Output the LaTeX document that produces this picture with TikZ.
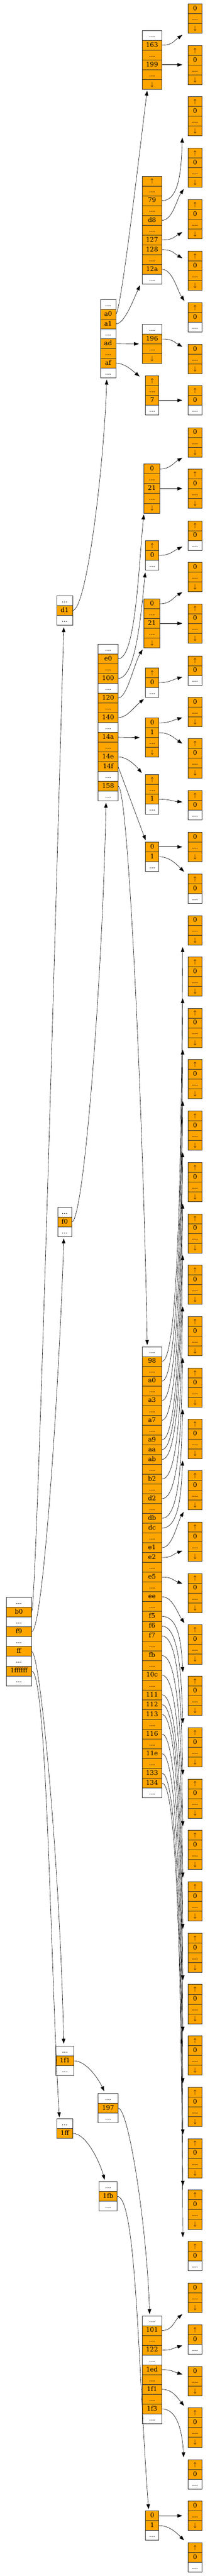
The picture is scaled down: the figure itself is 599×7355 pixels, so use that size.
\documentclass[tikz,border=0pt]{standalone}
\usepackage{fontspec}
\setmainfont{DejaVu Serif}
\usetikzlibrary{arrows.meta}

\definecolor{slotfill}{HTML}{FFA500}

\newcommand{\elide}{...}
\newcommand{\ptrup}{$\uparrow$}
\newcommand{\ptrdn}{$\downarrow$}

% one record: name, centre x, top y, width, cells (style/text)
\newcommand{\trienode}[5]{%
  \foreach \kind/\txt [count=\i] in {#5}
    \node[\kind, minimum width=#4pt] (#1-\i) at (#2,{#3+28*\i-14}) {\txt};
}
\newcommand{\leafdn}[2]{\trienode{#1}{557.5}{#2}{39}{taken/0,taken/\elide,taken/\ptrdn}}
\newcommand{\leafup}[2]{\trienode{#1}{557.5}{#2}{39}{taken/\ptrup,taken/0,spare/\elide}}
\newcommand{\leafmid}[2]{\trienode{#1}{557.5}{#2}{39}{taken/\ptrup,taken/0,taken/\elide,taken/\ptrdn}}

\tikzset{
  slotbox/.style={draw=black!80, line width=1.1pt, minimum height=28pt, inner sep=0pt, outer sep=0pt,
    text height=13.5pt, text depth=3.5pt, font=\fontsize{18}{20}\selectfont},
  taken/.style={slotbox, fill=slotfill},
  spare/.style={slotbox, fill=white},
  ptr/.style={-{Triangle[length=14pt,width=10pt]}, line width=0.9pt}
}

\begin{document}
\begin{tikzpicture}[x=1pt,y=-1pt]
\useasboundingbox (0,0) rectangle (599,7355);

% level 1
\trienode{root}{54}{4561}{72.6}{spare/\elide,taken/b0,spare/\elide,taken/f9,spare/\elide,taken/ff,spare/\elide,taken/1ffffff,spare/\elide}

% level 2
\trienode{d2a}{185}{1701}{45}{spare/\elide,taken/d1,spare/\elide}
\trienode{d2b}{185}{3447}{40}{spare/\elide,taken/f0,spare/\elide}
\trienode{d2c}{185.5}{5842}{52}{spare/\elide,taken/1f1,spare/\elide}
\trienode{d2d}{185}{6049}{45}{spare/\elide,taken/1ff}

% level 3
\trienode{d3a}{309}{855}{44}{spare/\elide,taken/a0,taken/a1,spare/\elide,taken/ad,taken/\elide,taken/af,spare/\elide}
\trienode{d3b}{309}{1839}{57.5}{spare/\elide,taken/e0,taken/\elide,taken/100,spare/\elide,taken/120,taken/\elide,taken/140,spare/\elide,taken/14a,taken/\elide,taken/14e,taken/14f,spare/\elide,taken/158,spare/\elide}
\trienode{d3c}{309}{5977}{57.5}{spare/\elide,taken/197,spare/\elide}
\trienode{d3d}{309}{6229}{52}{spare/\elide,taken/1fb,spare/\elide}

% level 4
\trienode{d4a}{434.5}{87}{57}{spare/\elide,taken/163,taken/\elide,taken/199,taken/\elide,taken/\ptrdn}
\trienode{d4b}{434.5}{503}{57}{taken/\ptrup,taken/\elide,taken/79,taken/\elide,taken/d8,taken/\elide,taken/127,taken/128,taken/\elide,taken/12a,spare/\elide}
\trienode{d4c}{434.5}{926}{57}{spare/\elide,taken/196,taken/\elide,taken/\ptrdn}
\trienode{d4d}{435}{1073}{38.4}{taken/\ptrup,taken/\elide,taken/7,spare/\elide}
\trienode{d4e}{434.3}{1325}{45.6}{taken/0,taken/\elide,taken/21,taken/\elide,taken/\ptrdn}
\trienode{d4f}{435}{1544}{38.4}{taken/\ptrup,taken/0,spare/\elide}
\trienode{d4g}{434.3}{1710}{45.6}{taken/0,taken/\elide,taken/21,taken/\elide,taken/\ptrdn}
\trienode{d4h}{435}{1907}{38.4}{taken/\ptrup,taken/0,spare/\elide}
\trienode{d4i}{435}{2050}{38.4}{taken/0,taken/1,taken/\elide,taken/\ptrdn}
\trienode{d4j}{435}{2212}{38.4}{taken/\ptrup,taken/\elide,taken/1,spare/\elide}
\trienode{d4k}{435}{2404}{38.4}{taken/0,taken/1,spare/\elide}
\trienode{d4l}{434.5}{3845}{57}{spare/\elide,taken/98,taken/\elide,taken/a0,taken/\elide,taken/a3,taken/\elide,taken/a7,taken/\elide,taken/a9,taken/aa,taken/ab,taken/\elide,taken/b2,taken/\elide,taken/d2,taken/\elide,taken/db,taken/dc,taken/\elide,taken/e1,taken/e2,taken/\elide,taken/e5,taken/\elide,taken/ee,taken/\elide,taken/f5,taken/f6,taken/f7,taken/\elide,taken/fb,taken/\elide,taken/10c,taken/\elide,taken/111,taken/112,taken/113,taken/\elide,taken/116,taken/\elide,taken/11e,taken/\elide,taken/133,taken/134,spare/\elide}
\trienode{d4m}{434.5}{6612}{57}{spare/\elide,taken/101,taken/\elide,taken/122,spare/\elide,taken/1ed,taken/\elide,taken/1f1,taken/\elide,taken/1f3,spare/\elide}
\trienode{d4n}{435}{7169}{38.4}{taken/0,taken/1,spare/\elide}

% leaves
\leafdn{leaf1}{11}
\leafmid{leaf2}{130}
\leafmid{leaf3}{276}
\leafmid{leaf4}{423}
\leafmid{leaf5}{570}
\leafmid{leaf6}{717}
\leafup{leaf7}{864}
\leafdn{leaf8}{983}
\leafup{leaf9}{1101}
\leafdn{leaf10}{1221}
\leafmid{leaf11}{1339}
\leafup{leaf12}{1487}
\leafdn{leaf13}{1605.5}
\leafmid{leaf14}{1724}
\leafup{leaf15}{1872.5}
\leafdn{leaf16}{1991}
\leafmid{leaf17}{2109}
\leafup{leaf18}{2257}
\leafdn{leaf19}{2376}
\leafup{leaf20}{2495}
\leafdn{leaf21}{2614}
\foreach \k in {22,...,46}
  \leafmid{leaf\k}{2732+146.7*(\k-22)};
\leafup{leaf47}{6399.5}
\leafdn{leaf48}{6519}
\leafup{leaf49}{6638}
\leafdn{leaf50}{6757}
\leafmid{leaf51}{6875}
\leafup{leaf52}{7022.6}
\leafdn{leaf53}{7141}
\leafup{leaf54}{7260}

% level 1 -> level 2
\draw[ptr] (root-2.east) .. controls +(15,0) and +(-12,400) .. ([shift={(19.8,90)}]d2a-1.north west);
\draw[ptr] (root-4.east) .. controls +(35,0) and +(-10,350) .. ([shift={(17.2,89)}]d2b-1.north west);
\draw[ptr] (root-6.east) .. controls +(25,0) and +(-10,-500) .. ([shift={(22.5,-7)}]d2c-1.north west);
\draw[ptr] (root-8.east) .. controls +(45,0) and +(-25,-400) .. ([shift={(7.2,-4)}]d2d-1.north west);

% level 2 -> level 3
\draw[ptr] (d2a-2.east) .. controls +(40,0) and +(-8,250) .. ([shift={(18,229)}]d3a-1.north west);
\draw[ptr] (d2b-2.east) .. controls +(35,0) and +(-10,500) .. ([shift={(22.7,453)}]d3b-1.north west);
\draw[ptr] (d2c-2.east) .. controls +(35,0) and +(-17,-36) .. ([shift={(17.7,-6)}]d3c-1.north west);
\draw[ptr] (d2d-2.east) .. controls +(40,0) and +(-13,-48) .. ([shift={(16,-5.4)}]d3d-1.north west);

% level 3 -> level 4
\draw[ptr] (d3a-2.east) .. controls +(15,0) and +(-13,99) .. ([shift={(14.6,172)}]d4a-1.north west);
\draw[ptr] (d3a-3.east) .. controls +(25,0) and +(-19,41) .. ([shift={(-6,312)}]d4b-1.north west);
\draw[ptr] (d3a-5.east) -- ([shift={(-9,56)}]d4c-1.north west);
\draw[ptr] (d3a-7.east) .. controls +(25,0) and +(-23,-19) .. ([shift={(-16.8,2)}]d4d-1.north west);
\draw[ptr] (d3b-2.east) .. controls +(50,0) and +(-15,150) .. ([shift={(-0.5,144)}]d4e-1.north west);
\draw[ptr] (d3b-4.east) .. controls +(50,0) and +(-12,120) .. ([shift={(-0.7,90.5)}]d4f-1.north west);
\draw[ptr] (d3b-6.east) .. controls +(25,0) and +(-25,43) .. ([shift={(-4.2,144.6)}]d4g-1.north west);
\draw[ptr] (d3b-8.east) .. controls +(25,0) and +(-27,22) .. ([shift={(-4.7,89)}]d4h-1.north west);
\draw[ptr] (d3b-10.east) -- ([shift={(-16.7,56)}]d4i-1.north west);
\draw[ptr] (d3b-12.east) .. controls +(25,0) and +(-19,-23) .. ([shift={(-10.7,-5)}]d4j-1.north west);
\draw[ptr] (d3b-13.east) -- ([shift={(0.3,-5)}]d4k-1.north west);
\draw[ptr] (d3b-15.east) .. controls +(30,0) and +(-10,-600) .. ([shift={(14.7,-5)}]d4l-1.north west);
\draw[ptr] (d3c-2.east) .. controls +(30,0) and +(-8,-250) .. ([shift={(21.6,-5)}]d4m-1.north west);
\draw[ptr] (d3d-2.east) .. controls +(55,0) and +(-30,-400) .. ([shift={(8.8,-5)}]d4n-1.north west);

% level 4 -> leaves
\draw[ptr] (d4a-2.east) .. controls +(30,0) and +(-25,17) .. ([shift={(-17,89)}]leaf1-1.north west);
\draw[ptr] (d4a-4.east) -- ([shift={(-17,55)}]leaf2-1.north west);
\draw[ptr] (d4b-3.east) .. controls +(50,0) and +(-3,90) .. ([shift={(-17,117)}]leaf3-1.north west);
\draw[ptr] (d4b-5.east) .. controls +(30,0) and +(-20,29) .. ([shift={(-13,117)}]leaf4-1.north west);
\draw[ptr] (d4b-7.east) .. controls +(30,0) and +(-26,15) .. ([shift={(-17,93)}]leaf5-1.north west);
\draw[ptr] (d4b-8.east) .. controls +(30,0) and +(-26,-15) .. ([shift={(-17,20)}]leaf6-1.north west);
\draw[ptr] (d4b-10.east) .. controls +(30,0) and +(-20,-29) .. ([shift={(-11,-5)}]leaf7-1.north west);
\draw[ptr] (d4c-2.east) .. controls +(30,0) and +(-26,-15) .. ([shift={(-17,7)}]leaf8-1.north west);
\draw[ptr] (d4d-3.east) -- ([shift={(-17,42)}]leaf9-1.north west);
\draw[ptr] (d4e-1.east) .. controls +(30,0) and +(-26,15) .. ([shift={(-17,86)}]leaf10-1.north west);
\draw[ptr] (d4e-3.east) -- ([shift={(-17,56)}]leaf11-1.north west);
\draw[ptr] (d4f-2.east) .. controls +(30,0) and +(-27,13) .. ([shift={(-17,74)}]leaf12-1.north west);
\draw[ptr] (d4g-1.east) .. controls +(30,0) and +(-26,15) .. ([shift={(-17,85.5)}]leaf13-1.north west);
\draw[ptr] (d4g-3.east) -- ([shift={(-17,56)}]leaf14-1.north west);
\draw[ptr] (d4h-2.east) .. controls +(30,0) and +(-29,8) .. ([shift={(-17,60.5)}]leaf15-1.north west);
\draw[ptr] (d4i-1.east) .. controls +(30,0) and +(-29,8) .. ([shift={(-17,58)}]leaf16-1.north west);
\draw[ptr] (d4i-2.east) .. controls +(30,0) and +(-25,-17) .. ([shift={(-17,14)}]leaf17-1.north west);
\draw[ptr] (d4j-3.east) .. controls +(30,0) and +(-30,-3) .. ([shift={(-17,33)}]leaf18-1.north west);
\draw[ptr] (d4k-1.east) -- ([shift={(-17,42)}]leaf19-1.north west);
\draw[ptr] (d4k-2.east) .. controls +(30,0) and +(-21,-21) .. ([shift={(-12,-6)}]leaf20-1.north west);

% the long node: upward bundle, side links, downward bundle
\foreach \c/\k/\d/\h in {2/21/532/90,4/22/492/118,6/23/451/118,8/24/410/118,10/25/369/118,11/26/316/118,12/27/263/118,14/28/222/118,16/29/181/118,18/30/140/118,19/31/87/118}
  \draw[ptr] (d4l-\c.east) .. controls +(50,0) and +(-4,\d) .. ([shift={(-16,\h)}]leaf\k-1.north west);
\draw[ptr] (d4l-21.east) .. controls +(30,0) and +(-18,30) .. ([shift={(-13,118)}]leaf32-1.north west);
\draw[ptr] (d4l-22.east) .. controls +(30,0) and +(-28,10) .. ([shift={(-17,82)}]leaf33-1.north west);
\draw[ptr] (d4l-24.east) .. controls +(30,0) and +(-28,-10) .. ([shift={(-17,29)}]leaf34-1.north west);
\draw[ptr] (d4l-26.east) .. controls +(30,0) and +(-20,-29) .. ([shift={(-11,-5)}]leaf35-1.north west);
\foreach \c/\k/\d in {28/36/72,29/37/125,30/38/178,32/39/219,34/40/260,36/41/301,37/42/354,38/43/408,40/44/448,42/45/489,44/46/530,45/47/583}
  \draw[ptr] (d4l-\c.east) .. controls +(50,0) and +(-4,-\d) .. ([shift={(-15.5,-12)}]leaf\k-1.north west);

\draw[ptr] (d4m-2.east) .. controls +(30,0) and +(-23,19) .. ([shift={(-17,88.5)}]leaf48-1.north west);
\draw[ptr] (d4m-4.east) .. controls +(30,0) and +(-29,8) .. ([shift={(-17,59)}]leaf49-1.north west);
\draw[ptr] (d4m-6.east) .. controls +(30,0) and +(-29,-8) .. ([shift={(-17,22)}]leaf50-1.north west);
\draw[ptr] (d4m-8.east) .. controls +(30,0) and +(-19,-23) .. ([shift={(-12,-6)}]leaf51-1.north west);
\draw[ptr] (d4m-10.east) .. controls +(45,0) and +(-4,-70) .. ([shift={(-13,-6.6)}]leaf52-1.north west);
\draw[ptr] (d4n-1.east) -- ([shift={(-17,42)}]leaf53-1.north west);
\draw[ptr] (d4n-2.east) .. controls +(30,0) and +(-21,-21) .. ([shift={(-12,-7)}]leaf54-1.north west);

%\draw[red] (0,0) rectangle (599,7355);
\end{tikzpicture}
\end{document}
